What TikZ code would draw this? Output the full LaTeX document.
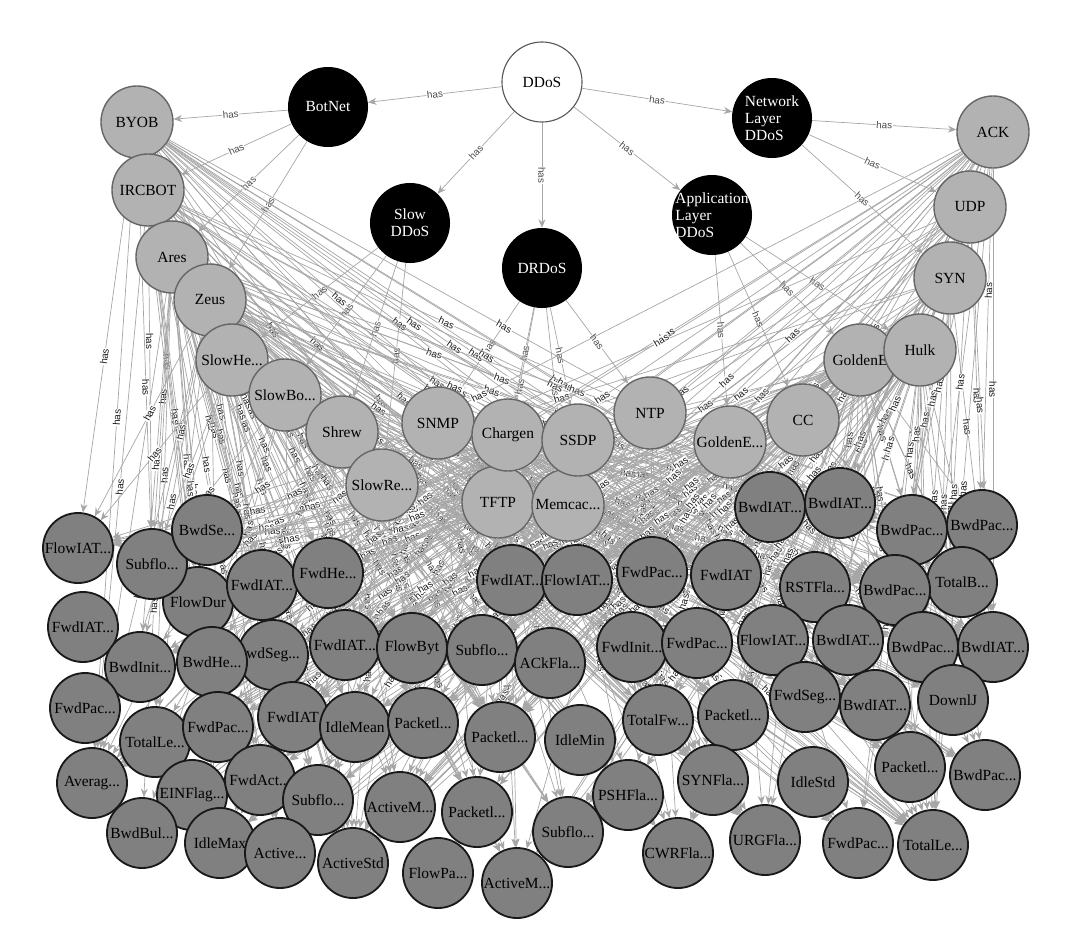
\documentclass[tikz,border=0pt]{standalone}
\usepackage{fontspec}
\setmainfont{Liberation Serif}
\setsansfont{Liberation Sans}
\usetikzlibrary{arrows.meta,backgrounds}

\newcommand\trunc{...}

\tikzset{
  root/.style={circle, draw=black!65, fill=white, line width=0.8pt, minimum size=2cm, inner sep=0pt},
  category/.style={circle, fill=black, text=white, minimum size=2cm, inner sep=-4pt, align=left},
  attack/.style={circle, draw=black!60, fill=black!30, line width=1pt, minimum size=1.8cm, inner sep=0pt},
  feature/.style={circle, draw=black!90, fill=black!50, line width=1.3pt, minimum size=1.75cm, inner sep=0pt},
  hasedge/.style={->, draw=black!35, line width=0.5pt},
  haslabel/.style={midway, sloped, font=\sffamily\fontsize{7}{7}\selectfont, text=black!70, fill=white, inner sep=0.4pt},
}

\begin{document}
\begin{tikzpicture}[x=0.025cm, y=-0.025cm, >={Stealth[length=6pt,width=5pt]}, font=\fontsize{11}{12}\selectfont]
	\useasboundingbox (0,0) rectangle (1080,935);
	% classes
	\node[root] (ddos) at (542,82) {DDoS};
	\node[category] (botnet) at (328,107) {BotNet};
	\node[category, align=center] (slowddos) at (410,223) {Slow\\DDoS};
	\node[category] (drdos) at (542,268) {DRDoS};
	\node[category] (applayer) at (712,215) {Application\\Layer\\DDoS};
	\node[category] (netlayer) at (772,118) {Network\\Layer\\DDoS};
	% attacks
	\node[attack] (byob) at (137,122) {BYOB};
	\node[attack] (ircbot) at (148,190) {IRCBOT};
	\node[attack] (ares) at (172,257) {Ares};
	\node[attack] (zeus) at (210,300) {Zeus};
	\node[attack] (slowhe) at (232,360) {SlowHe\trunc};
	\node[attack] (slowbo) at (285,395) {SlowBo\trunc};
	\node[attack] (shrew) at (342,432) {Shrew};
	\node[attack] (slowre) at (382,485) {SlowRe\trunc};
	\node[attack] (tftp) at (498,502) {TFTP};
	\node[attack] (memcac) at (568,505) {Memcac\trunc};
	\node[attack] (snmp) at (438,423) {SNMP};
	\node[attack] (chargen) at (508,435) {Chargen};
	\node[attack] (ssdp) at (578,440) {SSDP};
	\node[attack] (ntp) at (650,413) {NTP};
	\node[attack] (goldeneb) at (730,442) {GoldenE\trunc};
	\node[attack] (cc) at (803,420) {CC};
	\node[attack] (goldenea) at (860,360) {GoldenE};
	\node[attack] (hulk) at (920,350) {Hulk};
	\node[attack] (syn) at (950,278) {SYN};
	\node[attack] (udp) at (970,207) {UDP};
	\node[attack] (ack) at (993,132) {ACK};
	% features
	\foreach \x/\y/\txt [count=\n] in {
		198/602/FlowDur, 78/548/FlowIAT\trunc, 152/564/Subflo\trunc, 207/530/BwdSe\trunc, 262/585/FwdIAT\trunc,
		328/573/FwdHe\trunc, 512/580/FwdIAT\trunc, 577/580/FlowIAT\trunc, 652/572/FwdPac\trunc, 726/575/FwdIAT,
		770/507/BwdIAT\trunc, 840/503/BwdIAT\trunc, 912/530/BwdPac\trunc, 982/525/BwdPac\trunc, 962/582/TotalB\trunc,
		815/587/RSTFla\trunc, 895/590/BwdPac\trunc,
		83/627/FwdIAT\trunc, 140/667/BwdInit\trunc, 273/655/wdSeg\trunc, 212/662/BwdHe\trunc, 345/645/FwdIAT\trunc,
		412/648/FlowByt, 482/650/Subflo\trunc, 550/663/ACkFla\trunc, 632/647/FwdInit\trunc, 697/643/FwdPac\trunc,
		773/640/FlowIAT\trunc, 848/640/BwdIAT\trunc, 923/647/BwdPac\trunc, 993/647/BwdIAT\trunc,
		85/708/FwdPac\trunc, 155/742/TotalLe\trunc, 218/727/FwdPac\trunc, 293/717/FwdIAT, 355/727/IdleMean,
		423/723/Packetl\trunc, 500/737/Packetl\trunc, 580/740/IdleMin, 658/720/TotalFw\trunc, 733/715/Packetl\trunc,
		805/697/FwdSeg\trunc, 875/705/BwdIAT\trunc, 953/700/DownlJ,
		92/783/Averag\trunc, 192/795/EINFlag\trunc, 260/780/FwdAct\trunc, 318/800/Subflo\trunc, 400/807/ActiveM\trunc,
		477/812/Packetl\trunc, 628/795/PSHFla\trunc, 713/780/SYNFla\trunc, 813/782/IdleStd, 910/767/Packetl\trunc,
		985/775/BwdPac\trunc,
		142/833/BwdBul\trunc, 220/843/IdleMax, 280/853/Active\trunc, 353/863/ActiveStd, 438/873/FlowPa\trunc,
		517/883/ActiveM\trunc, 568/832/Subflo\trunc, 678/853/CWRFla\trunc, 765/840/URGFla\trunc, 858/843/FwdPac\trunc,
		933/845/TotalLe\trunc}
		\node[feature] (f\n) at (\x,\y) {\txt};
	% has edges
	\begin{scope}[on background layer]
		\foreach \a/\b in {ddos/botnet, ddos/slowddos, ddos/drdos, ddos/applayer, ddos/netlayer,
			botnet/byob, botnet/ircbot, botnet/ares, botnet/zeus,
			slowddos/slowhe, slowddos/slowbo, slowddos/shrew, slowddos/slowre,
			drdos/snmp, drdos/chargen, drdos/tftp, drdos/memcac, drdos/ssdp, drdos/ntp,
			applayer/goldeneb, applayer/cc, applayer/goldenea, applayer/hulk,
			netlayer/ack, netlayer/udp, netlayer/syn}
			\draw[hasedge] (\a) -- (\b) node[haslabel]{has};
		\foreach \a [count=\i] in {byob, ircbot, ares, zeus, slowhe, slowbo, shrew, slowre, snmp, chargen,
			tftp, memcac, ssdp, ntp, goldeneb, cc, goldenea, hulk, syn, udp, ack}
			\foreach \j in {1,...,66}{
				\pgfmathtruncatemacro\k{mod(\i*mod(\j*\j,7)+3*\j+5*\i,7)}
				\pgfmathsetmacro\p{0.38+0.06*mod(\j+\i,5)}
				\ifnum\k<3 \draw[hasedge] (\a) -- (f\j) node[haslabel, pos=\p, text=black!90]{has};\fi
			}
	\end{scope}
\end{tikzpicture}
\end{document}
